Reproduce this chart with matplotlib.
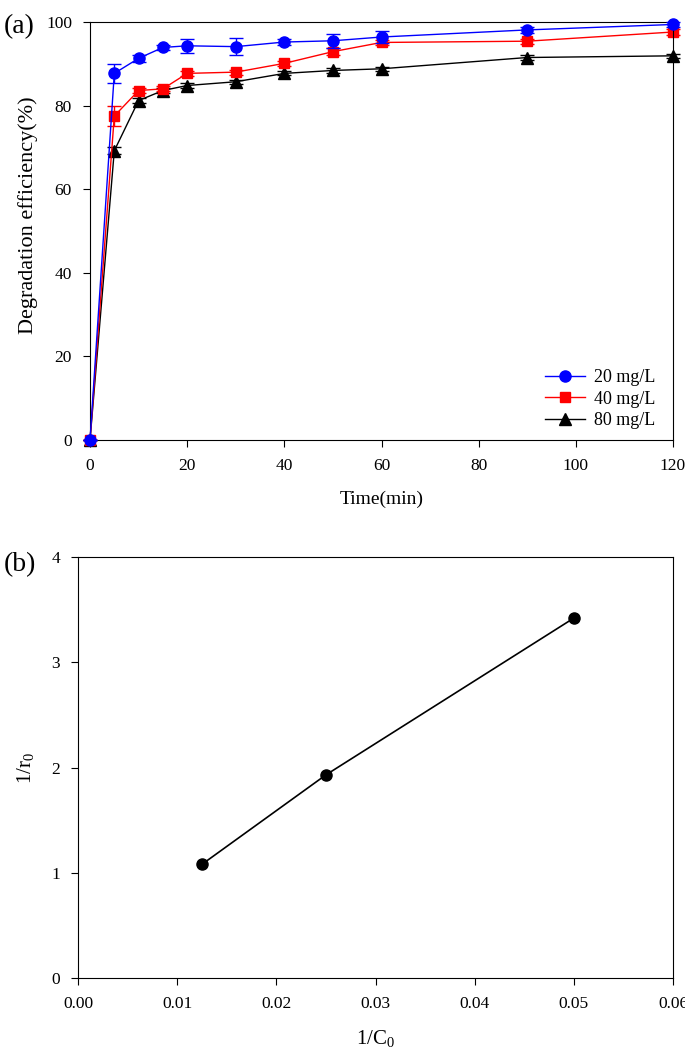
import numpy as np
import matplotlib
matplotlib.use('Agg')
import matplotlib.pyplot as plt
from matplotlib.lines import Line2D

plt.rcParams['font.family'] = ['Liberation Serif', 'DejaVu Serif']
plt.rcParams['mathtext.fontset'] = 'custom'
plt.rcParams['mathtext.rm'] = 'Liberation Serif'

#%% data, panel (a)
time = [0, 5, 10, 15, 20, 30, 40, 50, 60, 90, 120]
eff_20 = [0, 87.7, 91.3, 93.9, 94.3, 94.1, 95.2, 95.5, 96.4, 98.1, 99.4]
err_20 = [0, 2.2, 0.8, 0.6, 1.7, 2.1, 0.8, 1.7, 1.4, 0.8, 0.5]
eff_40 = [0, 77.5, 83.6, 84.0, 87.7, 88.0, 90.1, 92.9, 95.1, 95.4, 97.6]
err_40 = [0, 2.3, 0.6, 0.6, 0.6, 0.6, 0.6, 0.8, 0.6, 0.6, 0.6]
eff_80 = [0, 69.2, 81.2, 83.6, 84.8, 85.7, 87.7, 88.4, 88.8, 91.5, 91.9]
err_80 = [0, 0.8, 0.5, 0.5, 0.5, 0.5, 0.5, 0.5, 0.5, 0.5, 0.5]

#%% data, panel (b)
inv_c0 = [0.0125, 0.025, 0.05]
inv_r0 = [1.08, 1.93, 3.42]

fig = plt.figure(figsize=(6.85, 10.56), dpi=100)

#%% panel (a)
ax1 = fig.add_axes([0.1314, 0.5833, 0.8511, 0.3959])
series = [(eff_20, err_20, 'blue', 'o', 8, '20 mg/L'),
          (eff_40, err_40, 'red', 's', 7, '40 mg/L'),
          (eff_80, err_80, 'black', '^', 8, '80 mg/L')]
handles = []
for k, (y, e, c, m, s, lab) in enumerate(series):
    ax1.errorbar(time, y, yerr=e, color=c, marker=m, ms=s, lw=1,
                 capsize=5, elinewidth=1, zorder=3 - k, clip_on=False)
    handles.append(Line2D([], [], color=c, marker=m, ms=s, lw=1, label=lab))
ax1.set_xlim(0, 120)
ax1.set_ylim(0, 100)
ax1.set_xticks(np.arange(0, 121, 20))
ax1.set_yticks(np.arange(0, 101, 20))
ax1.set_xlabel('Time(min)', fontsize=14, labelpad=12)
ax1.set_ylabel('Degradation efficiency(%)', fontsize=16)
ax1.yaxis.set_label_coords(-0.089, 0.538)
ax1.tick_params(direction='out', length=5, labelsize=12.5, pad=8)
ax1.legend(handles=handles, loc='lower right', frameon=False, fontsize=13,
           handlelength=2.2, borderaxespad=0.6, labelspacing=0.25,
           handletextpad=0.5, bbox_to_anchor=(1.0, -0.017))
fig.text(0.005, 0.975, '(a)', fontsize=20, va='center')

#%% panel (b)
ax2 = fig.add_axes([0.1139, 0.0739, 0.8686, 0.3986])
ax2.plot(inv_c0, inv_r0, color='black', lw=1.2, marker='o', ms=8)
ax2.set_xlim(0, 0.06)
ax2.set_ylim(0, 4)
ax2.set_xticks(np.arange(0, 0.061, 0.01))
ax2.set_xticklabels(['%.2f' % v for v in np.arange(0, 0.061, 0.01)])
ax2.set_yticks(np.arange(0, 5, 1))
ax2.set_xlabel('1/C$_0$', fontsize=15, labelpad=12)
ax2.set_ylabel('1/r$_0$', fontsize=15, labelpad=10)
ax2.tick_params(direction='out', length=5, labelsize=12.5, pad=8)
fig.text(0.005, 0.465, '(b)', fontsize=20, va='center')

fig.savefig('out.png', dpi=100)
